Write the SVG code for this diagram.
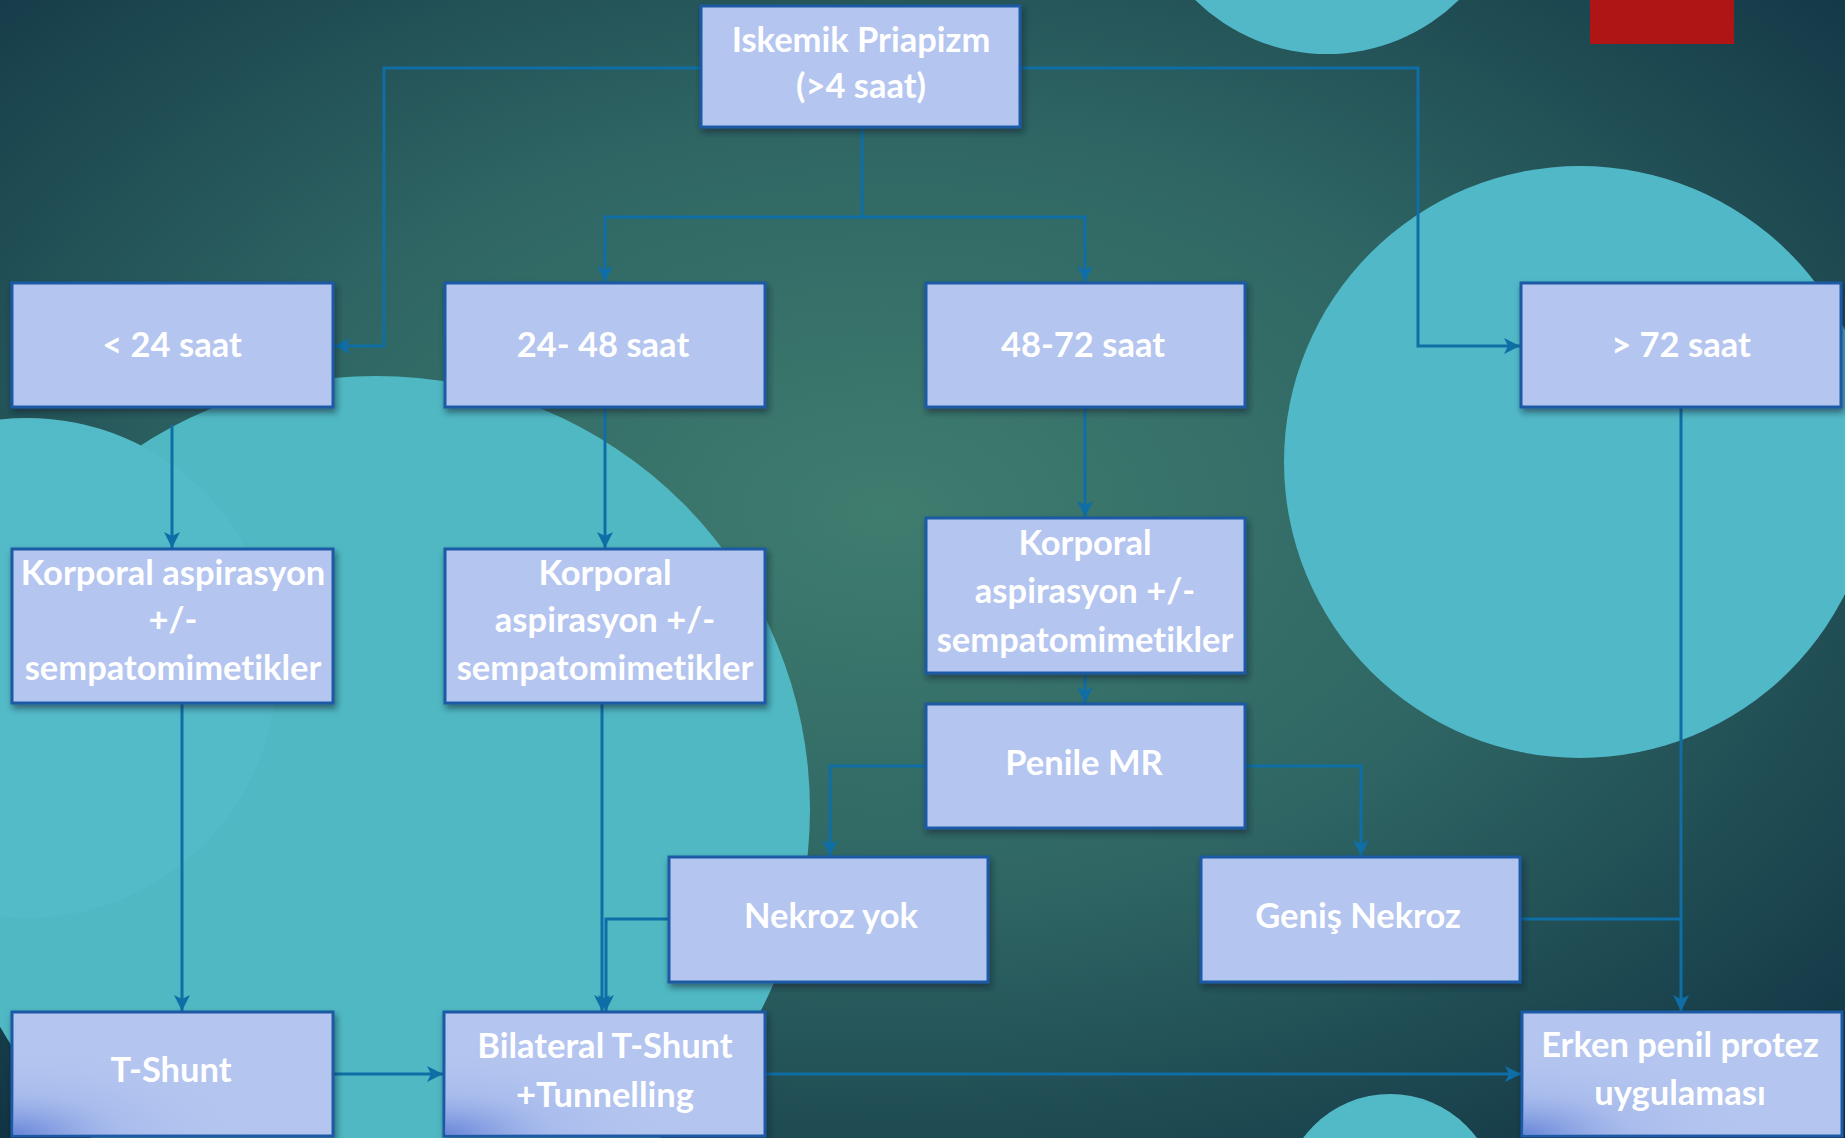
<svg xmlns="http://www.w3.org/2000/svg" width="1845" height="1138" viewBox="0 0 1845 1138">
<defs>
<radialGradient id="bg" cx="0.48" cy="0.45" r="0.75">
<stop offset="0" stop-color="#3f7d6f"/>
<stop offset="0.45" stop-color="#2f6664"/>
<stop offset="1" stop-color="#0f3142"/>
</radialGradient>
<radialGradient id="spot" cx="0" cy="1" r="0.75" fx="0" fy="1">
<stop offset="0" stop-color="#5f7fd6" stop-opacity="0.9"/>
<stop offset="0.45" stop-color="#8ea6e6" stop-opacity="0.3"/>
<stop offset="1" stop-color="#b4c5ef" stop-opacity="0"/>
</radialGradient>
<filter id="sh" x="-10%" y="-10%" width="120%" height="130%">
<feDropShadow dx="2" dy="4" stdDeviation="3" flood-color="#0a2030" flood-opacity="0.55"/>
</filter>
<marker id="ar" markerUnits="userSpaceOnUse" markerWidth="18" markerHeight="16" refX="16" refY="8" orient="auto">
<path d="M0,0 L16,8 L0,16 L4,8 z" fill="#0f6ea6"/>
</marker>
<style>
.box{fill:#b4c5ef;stroke:#1b5aa5;stroke-width:3;filter:url(#sh)}
.t{fill:#ffffff;font-family:Lato,"Open Sans","Liberation Sans",sans-serif;font-weight:bold;font-size:34.5px;text-anchor:middle;font-variant-ligatures:none}
.c{fill:none;stroke:#0f6ea6;stroke-width:3}
.a{marker-end:url(#ar)}
</style>
</defs>

<rect x="0" y="0" width="1845" height="1138" fill="url(#bg)"/>
<g id="background-shapes">
<circle cx="376" cy="810" r="434" fill="#4fb8c2"/>
<circle cx="27" cy="668" r="250" fill="#53bac8"/>
<circle cx="1580" cy="462" r="296" fill="#51b8c7"/>
<circle cx="1327" cy="-134" r="188" fill="#52b8c8"/>
<circle cx="1390" cy="1202" r="108" fill="#52b9c7"/>
<rect x="1590" y="0" width="144" height="44" fill="#b01515"/>
</g>

<g id="connectors">
<path class="c a" d="M701,68 H384 V346 H334"/>
<path class="c a" d="M1020,68 H1418 V346 H1520"/>
<path class="c a" d="M862,127 V217 H605 V282"/>
<path class="c a" d="M862,217 H1085 V282"/>
<path class="c a" d="M172,425 V548"/>
<path class="c a" d="M605,407 V548"/>
<path class="c a" d="M1085,407 V517"/>
<path class="c a" d="M1085,673 V703"/>
<path class="c a" d="M925,766 H830 V856"/>
<path class="c a" d="M1245,766 H1361 V856"/>
<path class="c a" d="M182,704 V1011"/>
<path class="c a" d="M602,704 V1011"/>
<path class="c a" d="M669,919 H606 V1011"/>
<path class="c a" d="M333,1074 H443"/>
<path class="c a" d="M765,1074 H1521"/>
<path class="c a" d="M1681,400 V1011"/>
<path class="c" d="M1520,919 H1681"/>
</g>

<g id="n-iskemik">
<rect class="box" x="701" y="6" width="319" height="121"/>
<text class="t" x="861" y="52">Iskemik Priapizm</text>
<text class="t" x="861" y="98">(&gt;4 saat)</text>
</g>
<g id="n-lt24">
<rect class="box" x="12" y="283" width="321" height="124"/>
<text class="t" x="172" y="357">&lt; 24 saat</text>
</g>
<g id="n-2448">
<rect class="box" x="445" y="283" width="320" height="124"/>
<text class="t" x="603" y="357">24- 48 saat</text>
</g>
<g id="n-4872">
<rect class="box" x="926" y="283" width="319" height="124"/>
<text class="t" x="1083" y="357">48-72 saat</text>
</g>
<g id="n-gt72">
<rect class="box" x="1521" y="283" width="320" height="124"/>
<text class="t" x="1681" y="357">&gt; 72 saat</text>
</g>
<g id="n-korporal1">
<rect class="box" x="12" y="549" width="321" height="154"/>
<text class="t" x="173" y="585">Korporal aspirasyon</text>
<text class="t" x="173" y="632">+/-</text>
<text class="t" x="173" y="680">sempatomimetikler</text>
</g>
<g id="n-korporal2">
<rect class="box" x="445" y="549" width="320" height="154"/>
<text class="t" x="605" y="585">Korporal</text>
<text class="t" x="605" y="632">aspirasyon +/-</text>
<text class="t" x="605" y="680">sempatomimetikler</text>
</g>
<g id="n-korporal3">
<rect class="box" x="926" y="518" width="319" height="155"/>
<text class="t" x="1085" y="555">Korporal</text>
<text class="t" x="1085" y="603">aspirasyon +/-</text>
<text class="t" x="1085" y="652">sempatomimetikler</text>
</g>
<g id="n-penilemr">
<rect class="box" x="926" y="704" width="319" height="124"/>
<text class="t" x="1084" y="775">Penile MR</text>
</g>
<g id="n-nekrozyok">
<rect class="box" x="669" y="857" width="319" height="125"/>
<text class="t" x="831" y="928">Nekroz yok</text>
</g>
<g id="n-genisnekroz">
<rect class="box" x="1201" y="857" width="319" height="125"/>
<text class="t" x="1358" y="928">Geniş Nekroz</text>
</g>
<g id="n-tshunt">
<rect class="box" x="12" y="1012" width="321" height="124"/>
<rect x="13.5" y="1013.5" width="318" height="121" fill="url(#spot)"/>
<text class="t" x="171" y="1082">T-Shunt</text>
</g>
<g id="n-bilateral">
<rect class="box" x="444" y="1012" width="321" height="124"/>
<rect x="445.5" y="1013.5" width="318" height="121" fill="url(#spot)"/>
<text class="t" x="605" y="1058">Bilateral T-Shunt</text>
<text class="t" x="605" y="1107">+Tunnelling</text>
</g>
<g id="n-erken">
<rect class="box" x="1522" y="1012" width="320" height="124"/>
<rect x="1523.5" y="1013.5" width="317" height="121" fill="url(#spot)"/>
<text class="t" x="1680" y="1057">Erken penil protez</text>
<text class="t" x="1680" y="1105">uygulaması</text>
</g>
</svg>
